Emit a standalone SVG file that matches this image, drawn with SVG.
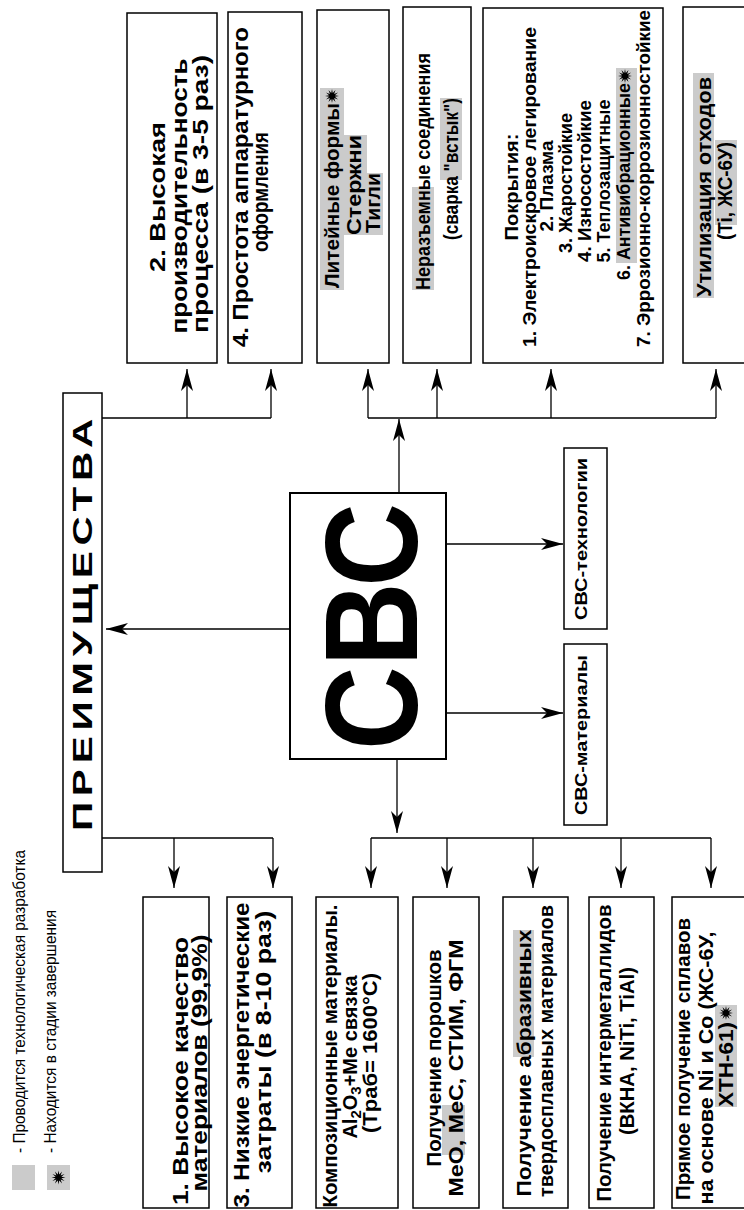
<svg xmlns="http://www.w3.org/2000/svg" xmlns:xlink="http://www.w3.org/1999/xlink" width="744" height="1210" viewBox="0 0 744 1210">
<style>
.box{fill:#fff;stroke:#000;stroke-width:1.5}
.t{font-family:"Liberation Sans",Arial,sans-serif;font-weight:bold;text-anchor:middle;fill:#000}
.r{font-family:"Liberation Sans",Arial,sans-serif;fill:#000}
.hl{fill:#cbcbcb}
.c{stroke:#000;stroke-width:1.3;fill:none}
.a{marker-end:url(#ah)}
</style>
<defs>
<marker id="ah" viewBox="-24 -8 26 16" refX="0" refY="0" markerWidth="26" markerHeight="16" markerUnits="userSpaceOnUse" orient="auto">
<path d="M0,0 L-22,-6 L-16,0 L-22,6 Z" fill="#000"/>
</marker>
<polygon id="star" fill="#000" points="7,0 2.9,0.78 6.06,3.5 2.12,2.12 3.5,6.06 0.78,2.9 0,7 -0.78,2.9 -3.5,6.06 -2.12,2.12 -6.06,3.5 -2.9,0.78 -7,0 -2.9,-0.78 -6.06,-3.5 -2.12,-2.12 -3.5,-6.06 -0.78,-2.9 0,-7 0.78,-2.9 3.5,-6.06 2.12,-2.12 6.06,-3.5 2.9,-0.78"/>
</defs>
<rect width="744" height="1210" fill="#fff"/>

<g id="connectors">
<path class="c" d="M102,418 H271 M368,418 H716 M102,838 H273 M371,838 H711"/>
<path class="c a" d="M187,418 V369"/>
<path class="c a" d="M271,418 V369"/>
<path class="c a" d="M368,418 V369"/>
<path class="c a" d="M437,418 V369"/>
<path class="c a" d="M551,418 V369"/>
<path class="c a" d="M716,418 V369"/>
<path class="c a" d="M399,493 V419"/>
<path class="c a" d="M290,629 H106"/>
<path class="c a" d="M174,838 V888"/>
<path class="c a" d="M273,838 V888"/>
<path class="c a" d="M371,838 V888"/>
<path class="c a" d="M447,838 V888"/>
<path class="c a" d="M533,838 V888"/>
<path class="c a" d="M621,838 V888"/>
<path class="c a" d="M711,838 V888"/>
<path class="c a" d="M397,759 V833"/>
<path class="c a" d="M446,544 H563"/>
<path class="c a" d="M446,713 H563"/>
</g>

<g id="legend">
<rect class="hl" x="12" y="1165" width="23" height="25"/>
<rect class="hl" x="47" y="1165" width="23" height="25"/>
<use xlink:href="#star" transform="translate(58.5,1177.5)"/>
<text class="r" font-size="17" transform="translate(25,1153) rotate(-90)" textLength="303" lengthAdjust="spacingAndGlyphs">- Проводится технологическая разработка</text>
<text class="r" font-size="17" transform="translate(56,1153) rotate(-90)" textLength="243" lengthAdjust="spacingAndGlyphs">- Находится в стадии завершения</text>
</g>

<g id="fig-label">
<text class="r" font-size="16" text-anchor="middle" transform="translate(699,78) rotate(-90)">Рис. 1</text>
</g>

<g id="node-advantages">
<rect class="box" x="63" y="393" width="39" height="479"/>
<text class="t" font-size="28" letter-spacing="4" transform="translate(92,622) rotate(-90)" textLength="418" lengthAdjust="spacingAndGlyphs">ПРЕИМУЩЕСТВА</text>
</g>

<g id="node-cbc">
<rect class="box" x="290" y="493" width="156" height="266" style="stroke-width:2"/>
<text class="t" font-size="132" transform="translate(417,626.5) rotate(-90)" textLength="247" lengthAdjust="spacingAndGlyphs">СВС</text>
</g>

<g id="node-tech">
<rect class="box" x="564" y="448" width="43" height="181"/>
<text class="t" font-size="16" transform="translate(587,539) rotate(-90)" textLength="162" lengthAdjust="spacingAndGlyphs">СВС-технологии</text>
</g>

<g id="node-mat">
<rect class="box" x="564" y="644" width="43" height="181"/>
<text class="t" font-size="16" transform="translate(587,735) rotate(-90)" textLength="160" lengthAdjust="spacingAndGlyphs">СВС-материалы</text>
</g>

<g id="node-adv2">
<rect class="box" x="127" y="13" width="90" height="350"/>
<text class="t" font-size="22" transform="translate(165,197) rotate(-90)" textLength="150" lengthAdjust="spacingAndGlyphs">2. Высокая</text>
<text class="t" font-size="22" transform="translate(187,196) rotate(-90)" textLength="275" lengthAdjust="spacingAndGlyphs">производительность</text>
<text class="t" font-size="22" transform="translate(208,194) rotate(-90)" textLength="278" lengthAdjust="spacingAndGlyphs">процесса (в 3-5 раз)</text>
</g>

<g id="node-adv4">
<rect class="box" x="228" y="12" width="74" height="351"/>
<text class="t" font-size="22" transform="translate(248,187) rotate(-90)" textLength="320" lengthAdjust="spacingAndGlyphs">4. Простота аппаратурного</text>
<text class="t" font-size="22" transform="translate(268,192) rotate(-90)" textLength="120" lengthAdjust="spacingAndGlyphs">оформления</text>
</g>

<g id="node-casting">
<rect class="box" x="317" y="10" width="72" height="353"/>
<rect class="hl" x="320" y="88" width="24" height="202"/>
<rect class="hl" x="344" y="135" width="23" height="100"/>
<rect class="hl" x="367" y="173" width="16" height="62"/>
<text class="t" font-size="20" transform="translate(339,195.5) rotate(-90)" textLength="185" lengthAdjust="spacingAndGlyphs">Литейные формы</text>
<use xlink:href="#star" transform="translate(332,96)"/>
<text class="t" font-size="20" transform="translate(361,185) rotate(-90)" textLength="100" lengthAdjust="spacingAndGlyphs">Стержни</text>
<text class="t" font-size="20" transform="translate(380,203) rotate(-90)" textLength="60" lengthAdjust="spacingAndGlyphs">Тигли</text>
</g>

<g id="node-joints">
<rect class="box" x="403" y="7" width="68" height="356"/>
<rect class="hl" x="412" y="187" width="22" height="103"/>
<rect class="hl" x="440" y="98" width="22" height="82"/>
<text class="t" font-size="20" transform="translate(430,171.5) rotate(-90)" textLength="237" lengthAdjust="spacingAndGlyphs">Неразъемные соединения</text>
<text class="t" font-size="20" transform="translate(458,169) rotate(-90)" textLength="142" lengthAdjust="spacingAndGlyphs">(сварка "встык")</text>
</g>

<g id="node-coatings">
<rect class="box" x="483" y="8" width="180" height="355"/>
<rect class="hl" x="616" y="68" width="21" height="195"/>
<text class="t" font-size="19" transform="translate(518,187) rotate(-90)" textLength="107" lengthAdjust="spacingAndGlyphs">Покрытия:</text>
<text class="t" font-size="19" transform="translate(536,187) rotate(-90)" textLength="320" lengthAdjust="spacingAndGlyphs">1. Электроискровое легирование</text>
<text class="t" font-size="19" transform="translate(553,186) rotate(-90)">2. Плазма</text>
<text class="t" font-size="19" transform="translate(572,183) rotate(-90)" textLength="140" lengthAdjust="spacingAndGlyphs">3. Жаростойкие</text>
<text class="t" font-size="19" transform="translate(591,181) rotate(-90)" textLength="162" lengthAdjust="spacingAndGlyphs">4. Износостойкие</text>
<text class="t" font-size="19" transform="translate(610,181) rotate(-90)" textLength="163" lengthAdjust="spacingAndGlyphs">5. Теплозащитные</text>
<text class="t" font-size="19" transform="translate(630,181.5) rotate(-90)" textLength="197" lengthAdjust="spacingAndGlyphs">6. Антивибрационные</text>
<use xlink:href="#star" transform="translate(625,76)"/>
<text class="t" font-size="19" transform="translate(650,178.5) rotate(-90)" textLength="337" lengthAdjust="spacingAndGlyphs">7. Эррозионно-коррозионностойкие</text>
</g>

<g id="node-waste">
<rect class="box" x="683" y="7" width="70" height="356"/>
<rect class="hl" x="693" y="73" width="21" height="225"/>
<rect class="hl" x="715" y="140" width="22" height="85"/>
<text class="t" font-size="20" transform="translate(711,187) rotate(-90)" textLength="220" lengthAdjust="spacingAndGlyphs">Утилизация отходов</text>
<text class="t" font-size="20" transform="translate(732,191) rotate(-90)" textLength="98" lengthAdjust="spacingAndGlyphs">(Ti, ЖС-6У)</text>
</g>

<g id="node-adv1">
<rect class="box" x="143" y="897" width="66" height="311"/>
<text class="t" font-size="22" transform="translate(188,1071) rotate(-90)" textLength="268" lengthAdjust="spacingAndGlyphs">1. Высокое качество</text>
<text class="t" font-size="22" transform="translate(207,1063) rotate(-90)" textLength="257" lengthAdjust="spacingAndGlyphs">материалов (99,9%)</text>
</g>

<g id="node-adv3">
<rect class="box" x="227" y="897" width="65" height="311"/>
<text class="t" font-size="22" transform="translate(249,1055) rotate(-90)" textLength="305" lengthAdjust="spacingAndGlyphs">3. Низкие энергетические</text>
<text class="t" font-size="22" transform="translate(271,1042) rotate(-90)" textLength="263" lengthAdjust="spacingAndGlyphs">затраты (в 8-10 раз)</text>
</g>

<g id="node-composite">
<rect class="box" x="316" y="897" width="82" height="311"/>
<text class="t" font-size="20" transform="translate(337,1056) rotate(-90)" textLength="303" lengthAdjust="spacingAndGlyphs">Композиционные материалы.</text>
<text class="t" font-size="20" transform="translate(357,1057) rotate(-90)">Al<tspan font-size="15" dy="4">2</tspan><tspan dy="-4">O</tspan><tspan font-size="15" dy="4">3</tspan><tspan dy="-4">+Me связка</tspan></text>
<text class="t" font-size="20" transform="translate(377,1053) rotate(-90)" textLength="160" lengthAdjust="spacingAndGlyphs">(Tраб= 1600°C)</text>
</g>

<g id="node-powders">
<rect class="box" x="413" y="897" width="66" height="311"/>
<rect class="hl" x="442" y="1105" width="23" height="50"/>
<text class="t" font-size="20" transform="translate(441,1058) rotate(-90)" textLength="217" lengthAdjust="spacingAndGlyphs">Получение порошков</text>
<text class="t" font-size="20" transform="translate(463,1068) rotate(-90)" textLength="257" lengthAdjust="spacingAndGlyphs">MeO, MeC, СТИМ, ФГМ</text>
</g>

<g id="node-abrasive">
<rect class="box" x="503" y="897" width="65" height="311"/>
<rect class="hl" x="513" y="930" width="21" height="127"/>
<text class="t" font-size="20" transform="translate(531,1063) rotate(-90)" textLength="267" lengthAdjust="spacingAndGlyphs">Получение абразивных</text>
<text class="t" font-size="20" transform="translate(553,1051) rotate(-90)" textLength="292" lengthAdjust="spacingAndGlyphs">твердосплавных материалов</text>
</g>

<g id="node-intermetallic">
<rect class="box" x="589" y="897" width="65" height="311"/>
<text class="t" font-size="20" transform="translate(611,1053) rotate(-90)" textLength="297" lengthAdjust="spacingAndGlyphs">Получение интерметаллидов</text>
<text class="t" font-size="20" transform="translate(634,1051) rotate(-90)" textLength="168" lengthAdjust="spacingAndGlyphs">(ВКНА, NiTi, TiAl)</text>
</g>

<g id="node-alloys">
<rect class="box" x="672" y="897" width="80" height="311"/>
<rect class="hl" x="715" y="1005" width="22" height="102"/>
<text class="t" font-size="21" transform="translate(690,1059) rotate(-90)" textLength="282" lengthAdjust="spacingAndGlyphs">Прямое получение сплавов</text>
<text class="t" font-size="21" transform="translate(713,1068) rotate(-90)" textLength="273" lengthAdjust="spacingAndGlyphs">на основе Ni и Co (ЖС-6У,</text>
<text class="t" font-size="21" transform="translate(733,1064.5) rotate(-90)" textLength="85" lengthAdjust="spacingAndGlyphs">ХТН-61)</text>
<use xlink:href="#star" transform="translate(726,1013)"/>
</g>
</svg>
